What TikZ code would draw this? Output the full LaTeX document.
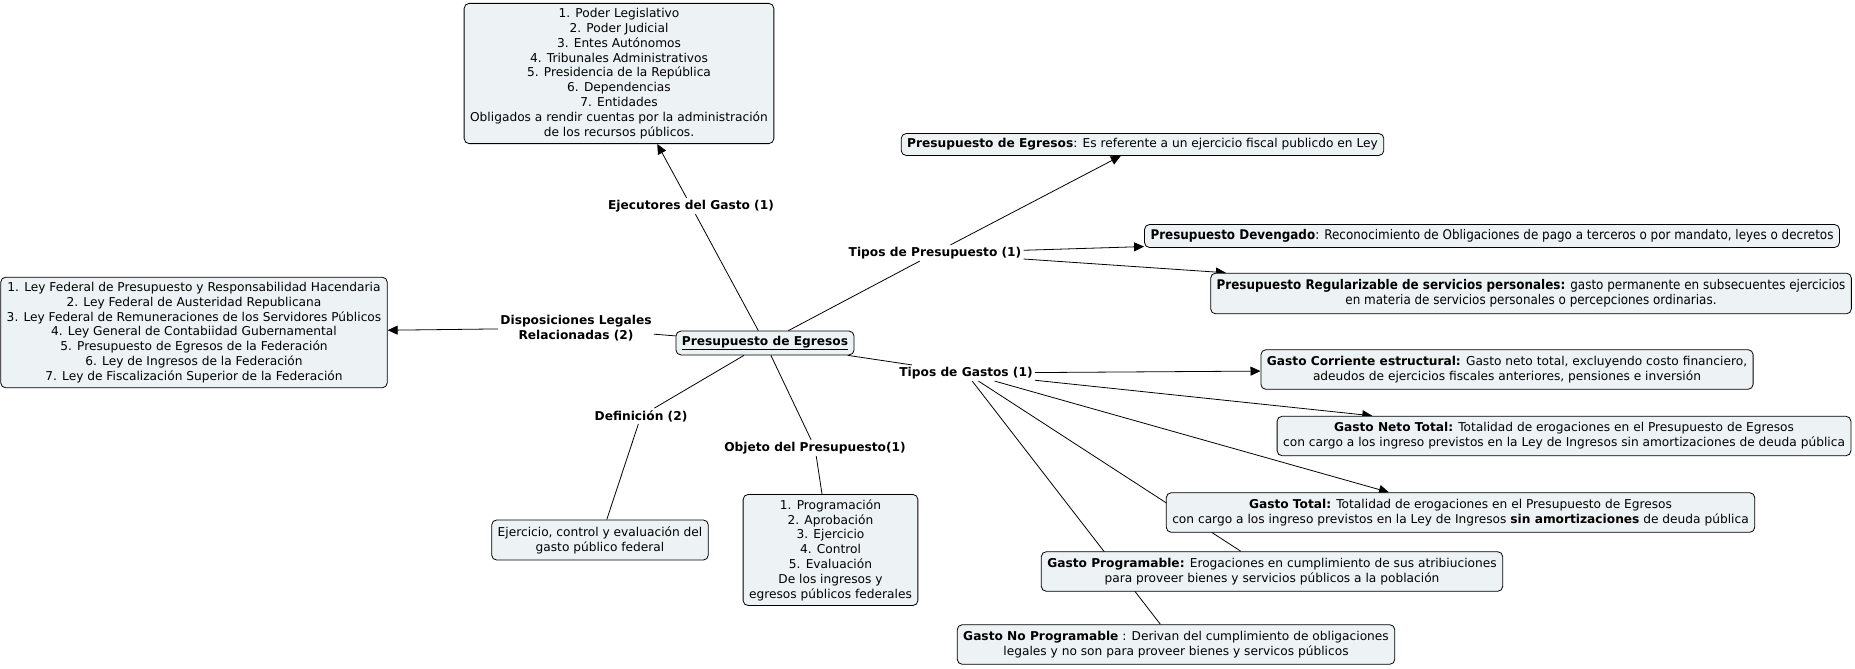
\documentclass[tikz,border=0pt]{standalone}
\usepackage{fontspec}
\setmainfont{DejaVu Sans}
\newfontfamily\condfont{DejaVu Sans Condensed}
\usetikzlibrary{arrows.meta,backgrounds}

\definecolor{boxfill}{RGB}{237,243,244}

\begin{document}
\begin{tikzpicture}[
  x=1pt, y=-1pt,
  font=\fontsize{12.2}{14.8}\selectfont,
  box/.style={draw=black, fill=boxfill, rounded corners=5pt, align=center,
              inner xsep=6pt, inner ysep=6.5pt, line width=0.8pt},
  cbox/.style={box, font=\condfont\fontsize{13.3}{14.8}\selectfont},
  lbl/.style={font=\fontsize{12.2}{14.8}\selectfont\bfseries, align=center, inner sep=2pt},
  arr/.style={-{Triangle[length=10pt,width=9pt]}, draw=black, line width=0.8pt},
  con/.style={draw=black, line width=0.8pt}
]
\useasboundingbox (0,0) rectangle (1855,669);

% ---------------- central topic ----------------
\node[box, inner ysep=5pt] (root) at (765,343) {\textbf{\underline{Presupuesto de Egresos}}};

% ---------------- left side ----------------
\node[lbl] (ejec) at (691,206) {Ejecutores del Gasto (1)};
\node[box, inner ysep=5pt] (poderes) at (619,73.5)
  {1. Poder Legislativo\\ 2. Poder Judicial\\ 3. Entes Autónomos\\
   4. Tribunales Administrativos\\ 5. Presidencia de la República\\
   6. Dependencias\\ 7. Entidades\\
   Obligados a rendir cuentas por la administración\\ de los recursos públicos.};

\node[lbl] (dispo) at (576,328) {Disposiciones Legales\\ Relacionadas (2)};
\node[box, inner ysep=5pt] (leyes) at (194,332.5)
  {1. Ley Federal de Presupuesto y Responsabilidad Hacendaria\\
   2. Ley Federal de Austeridad Republicana\\
   3. Ley Federal de Remuneraciones de los Servidores Públicos\\
   4. Ley General de Contabiidad Gubernamental\\
   5. Presupuesto de Egresos de la Federación\\
   6. Ley de Ingresos de la Federación\\
   7. Ley de Fiscalización Superior de la Federación};

\node[lbl] (defin) at (641,416) {Definición (2)};
\node[box] (defbox) at (600,540)
  {Ejercicio, control y evaluación del\\ gasto público federal};

\node[lbl] (objeto) at (815,448) {Objeto del Presupuesto(1)};
\node[box, inner ysep=5pt] (etapas) at (830.5,550)
  {1. Programación\\ 2. Aprobación\\ 3. Ejercicio\\ 4. Control\\ 5. Evaluación\\
   De los ingresos y\\ egresos públicos federales};

% ---------------- tipos de presupuesto ----------------
\node[lbl] (tpres) at (935,253) {Tipos de Presupuesto (1)};
\node[box, inner ysep=5pt] (pegr) at (1142.5,144.5)
  {\textbf{Presupuesto de Egresos}: Es referente a un ejercicio fiscal publicdo en Ley};
\node[cbox, inner ysep=5pt] (deven) at (1492,236)
  {\textbf{Presupuesto Devengado}: Reconocimiento de Obligaciones de pago a terceros o por mandato, leyes o decretos};
\node[cbox] (regul) at (1531,293.5)
  {\textbf{Presupuesto Regularizable de servicios personales:} gasto permanente en subsecuentes ejercicios\\
   en materia de servicios personales o percepciones ordinarias.};

% ---------------- tipos de gastos ----------------
\node[lbl] (tgas) at (966,373) {Tipos de Gastos (1)};
\node[box] (corr) at (1507,369.5)
  {\textbf{Gasto Corriente estructural:} Gasto neto total, excluyendo costo financiero,\\
   adeudos de ejercicios fiscales anteriores, pensiones e inversión};
\node[box] (neto) at (1564,436)
  {\textbf{Gasto Neto Total:} Totalidad de erogaciones en el Presupuesto de Egresos\\
   con cargo a los ingreso previstos en la Ley de Ingresos sin amortizaciones de deuda pública};
\node[box] (total) at (1460.5,512.5)
  {\textbf{Gasto Total:} Totalidad de erogaciones en el Presupuesto de Egresos\\
   con cargo a los ingreso previstos en la Ley de Ingresos \textbf{sin amortizaciones} de deuda pública};
\node[box] (prog) at (1272,571.5)
  {\textbf{Gasto Programable:} Erogaciones en cumplimiento de sus atribiuciones\\
   para proveer bienes y servicios públicos a la población};
\node[box] (noprog) at (1176,644.5)
  {\textbf{Gasto No Programable} : Derivan del cumplimiento de obligaciones\\
   legales y no son para proveer bienes y servicos públicos};

% ---------------- connectors ----------------
\begin{scope}[on background layer]
  \draw[con] (root) -- (ejec);
  \draw[arr] (ejec) -- (poderes);
  \draw[con] (root) -- (dispo);
  \draw[arr] (dispo) -- (leyes);
  \draw[con] (root) -- (defin);
  \draw[con] (defin) -- (defbox);
  \draw[con] (root) -- (objeto);
  \draw[con] (objeto) -- (etapas);
  \draw[con] (root) -- (tpres);
  \draw[arr] (tpres) -- (pegr);
  \draw[arr] (tpres) -- (deven);
  \draw[arr] (tpres) -- (regul);
  \draw[con] (root) -- (tgas);
  \draw[arr] (tgas) -- (corr);
  \draw[arr] (tgas) -- (neto);
  \draw[arr] (tgas) -- (total);
  \draw[con] (tgas) -- (prog);
  \draw[con] (tgas) -- (noprog);
\end{scope}

\end{tikzpicture}
\end{document}
